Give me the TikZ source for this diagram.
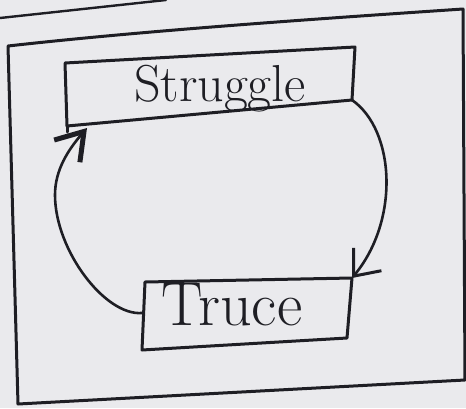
\documentclass[tikz,border=0pt]{standalone}
\usetikzlibrary{arrows.meta}
\definecolor{inkc}{HTML}{1E1E24}
\definecolor{paper}{HTML}{EAEAED}
\begin{document}
\begin{tikzpicture}[x=1pt,y=-1pt, line cap=round, line join=round,
  ink/.style={draw=inkc, line width=3pt},
  lbl/.style={text=inkc, inner sep=0pt, anchor=base},
  flow/.style={draw=inkc, line width=2.6pt}]
\fill[paper] (0,0) rectangle (466,408);
\useasboundingbox (0,0) rectangle (466,408);
% page edge above the frame
\coordinate (e1) at (0,18);
\coordinate (e2) at (166,0);
\draw[ink, line width=2.4pt] (e1) -- (e2);
% outer frame
\coordinate (f1) at (8,46);
\coordinate (f2) at (463,9);
\coordinate (f3) at (465,380);
\coordinate (f4) at (18,404);
\draw[ink] (f1) .. controls (150,30) and (330,18) .. (f2) -- (f3) -- (f4) -- cycle;
% Struggle box
\coordinate (s1) at (65,63);
\coordinate (s2) at (355,47);
\coordinate (s3) at (352,100);
\coordinate (s4) at (67,126);
\draw[ink] (s1) -- (s2) -- (s3) -- (s4) -- cycle;
\draw[ink] (s4) -- +(0,6);
\node[lbl] (st) at (220,101) {\fontsize{52}{52}\selectfont Struggle};
% Truce box
\coordinate (t1) at (145,282);
\coordinate (t2) at (352,278);
\coordinate (t3) at (347,338);
\coordinate (t4) at (142,350);
\draw[ink] (t1) -- (t2) -- (t3) -- (t4) -- cycle;
\node[lbl] (tr) at (232,325) {\fontsize{62}{62}\selectfont Truce};
% connectors
\coordinate (tl) at (142,313);
\coordinate (sl) at (87,128);
\coordinate (lw) at (55,195);
\draw[flow, -{Straight Barb[length=22pt,width=36pt,line width=3pt]}] (s3) .. controls (395,130) and (400,220) .. (t2);
\draw[flow, -{Straight Barb[length=26pt,width=34pt,line width=5pt]}] (tl) .. controls (105,316) and (55,250) .. (lw) .. controls (55,170) and (68,150) .. (sl);
\end{tikzpicture}
\end{document}
